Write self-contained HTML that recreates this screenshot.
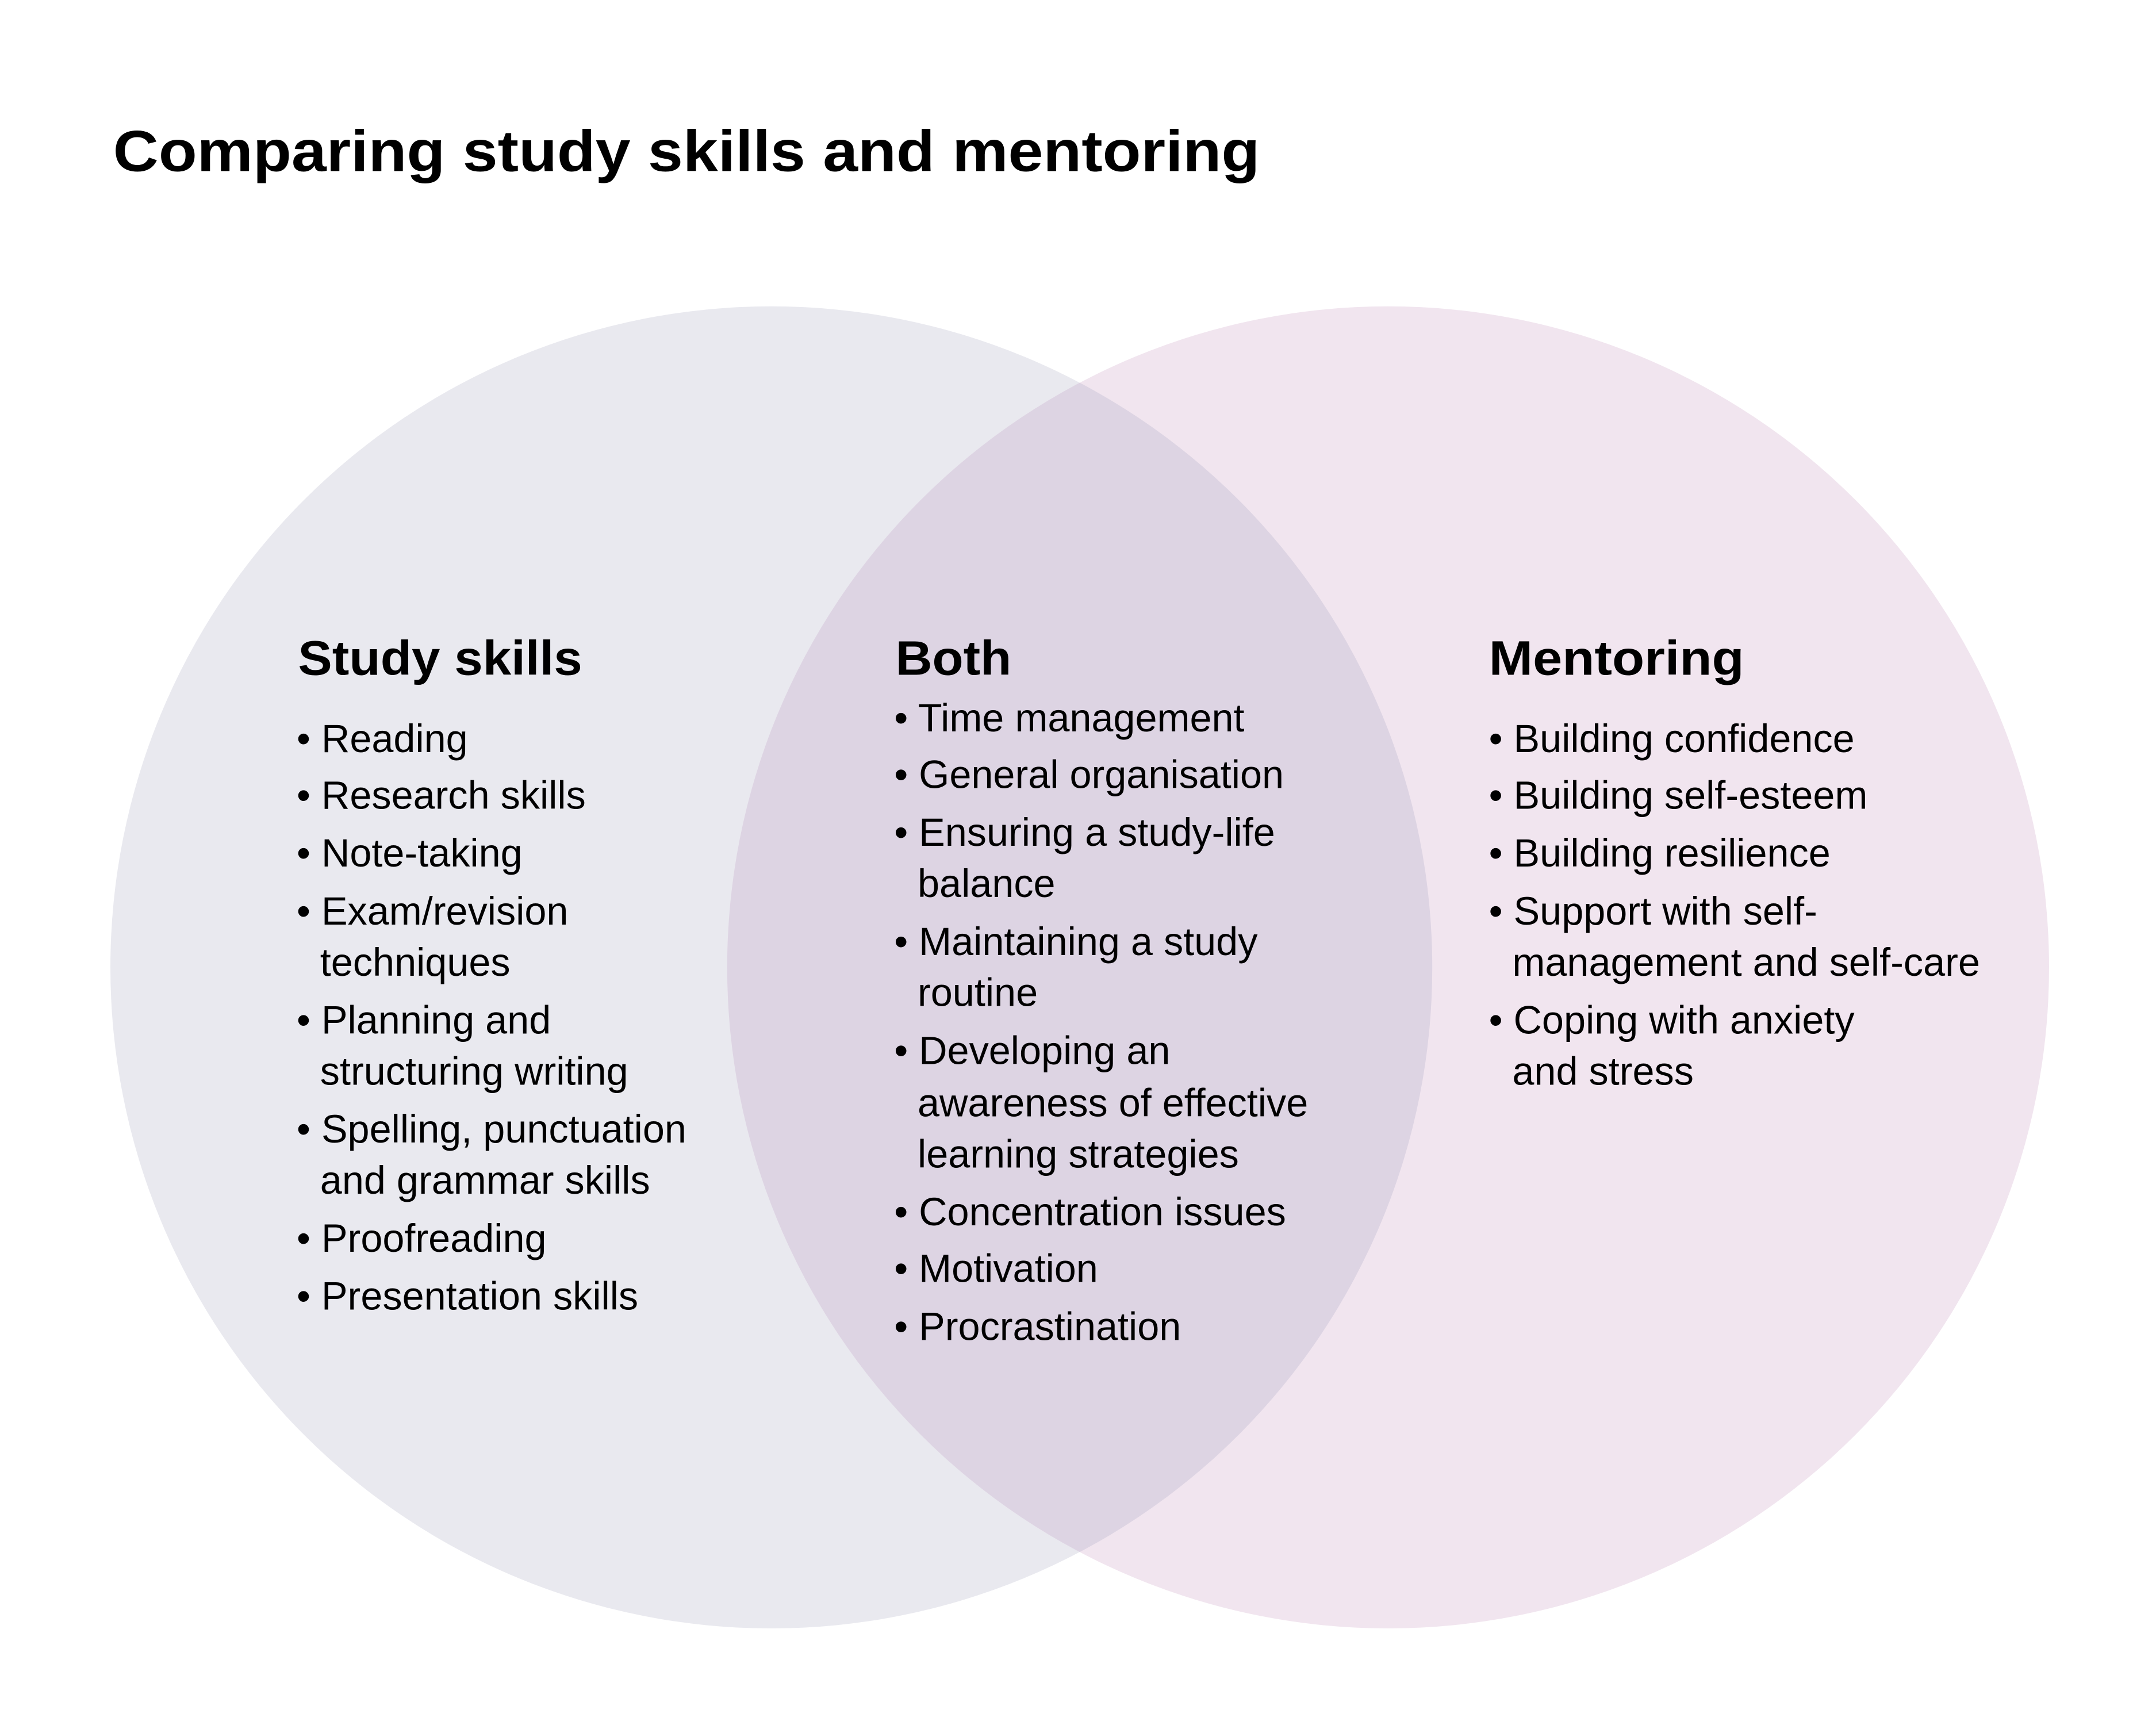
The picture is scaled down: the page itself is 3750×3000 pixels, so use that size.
<!DOCTYPE html>
<html><head><meta charset="utf-8"><style>html,body{margin:0;padding:0;background:#fff}svg{display:block}</style></head>
<body>
<svg width="3750" height="3000" viewBox="0 0 1562.5 1250" xmlns="http://www.w3.org/2000/svg">
<defs><clipPath id="c"><circle cx="559" cy="701" r="479"/></clipPath></defs>
<rect width="1562.5" height="1250" fill="#fff"/>
<circle cx="559" cy="701" r="479" fill="#e9e9ef"/>
<circle cx="1006" cy="701" r="479" fill="#f1e5ef"/>
<circle cx="1006" cy="701" r="479" fill="#ddd4e3" clip-path="url(#c)"/>
<g font-family="Liberation Sans, sans-serif" fill="#000">
<text x="82" y="124" font-size="42" font-weight="bold" textLength="831" lengthAdjust="spacingAndGlyphs">Comparing study skills and mentoring</text>
<g font-size="35" font-weight="bold">
<text x="216" y="489" textLength="206" lengthAdjust="spacingAndGlyphs">Study skills</text>
<text x="649" y="489" textLength="84" lengthAdjust="spacingAndGlyphs">Both</text>
<text x="1079" y="489" textLength="185" lengthAdjust="spacingAndGlyphs">Mentoring</text>
</g>
<g font-size="28.5">
<g transform="translate(215,0)">
<text y="545">• Reading</text>
<text y="586">• Research skills</text>
<text y="628">• Note-taking</text>
<text y="670">• Exam/revision</text>
<text x="17" y="707">techniques</text>
<text y="749">• Planning and</text>
<text x="17" y="786">structuring writing</text>
<text y="828">• Spelling, punctuation</text>
<text x="17" y="865">and grammar skills</text>
<text y="907">• Proofreading</text>
<text y="949">• Presentation skills</text>
</g>
<g transform="translate(648,0)">
<text y="530">• Time management</text>
<text y="571">• General organisation</text>
<text y="613">• Ensuring a study-life</text>
<text x="17" y="650">balance</text>
<text y="692">• Maintaining a study</text>
<text x="17" y="729">routine</text>
<text y="771">• Developing an</text>
<text x="17" y="809">awareness of effective</text>
<text x="17" y="846">learning strategies</text>
<text y="888">• Concentration issues</text>
<text y="929">• Motivation</text>
<text y="971">• Procrastination</text>
</g>
<g transform="translate(1079,0)">
<text y="545">• Building confidence</text>
<text y="586">• Building self-esteem</text>
<text y="628">• Building resilience</text>
<text y="670">• Support with self-</text>
<text x="17" y="707">management and self-care</text>
<text y="749">• Coping with anxiety</text>
<text x="17" y="786">and stress</text>
</g>
</g>
</g>
</svg>
</body></html>
